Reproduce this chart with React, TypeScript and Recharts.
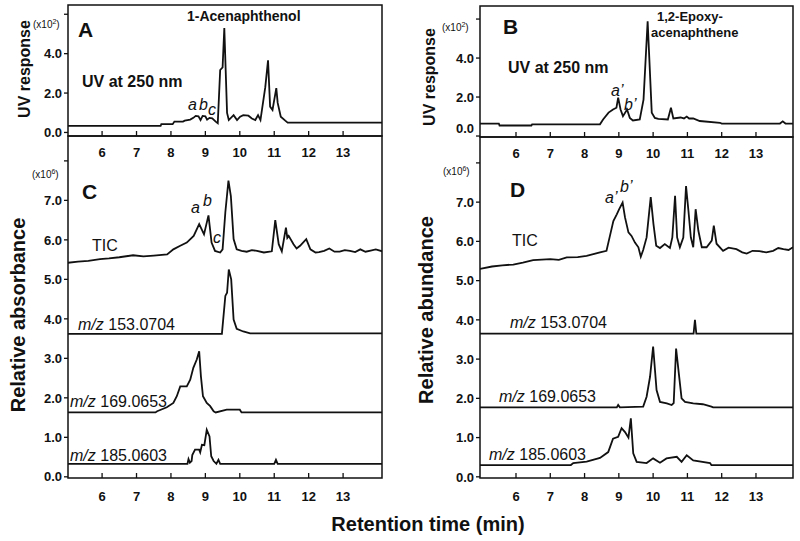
import { LineChart, Line, XAxis, YAxis, ReferenceArea } from "recharts";

// ---- panel A: UV 250 nm, 1-acenaphthenol (x10^2)
const uvA_t = [5.0, 7.7, 7.72, 8.05, 8.1, 8.35, 8.4, 8.56, 8.65, 8.72, 8.8, 8.86, 8.92, 9.0, 9.05, 9.12, 9.2, 9.3, 9.36, 9.43, 9.5, 9.55, 9.63, 9.68, 9.82, 9.92, 10.01, 10.1, 10.25, 10.35, 10.45, 10.53, 10.6, 10.74, 10.82, 10.88, 10.95, 11.06, 11.1, 11.19, 11.32, 11.39, 14.14];
const uvA_v = [0.33, 0.33, 0.42, 0.42, 0.55, 0.55, 0.6, 0.65, 0.74, 0.84, 0.82, 0.63, 0.84, 0.82, 0.65, 0.74, 0.72, 0.55, 0.47, 3.17, 3.3, 5.3, 0.99, 0.63, 0.88, 0.63, 0.8, 0.88, 0.85, 0.71, 0.63, 0.88, 0.63, 2.3, 3.66, 1.31, 1.14, 2.25, 1.5, 0.8, 0.6, 0.5, 0.5];

// ---- panel B: UV 250 nm, 1,2-epoxyacenaphthene (x10^2)
const uvB_t = [4.95, 5.5, 5.52, 6.45, 6.47, 8.45, 8.54, 8.7, 8.83, 8.93, 8.98, 9.05, 9.12, 9.24, 9.32, 9.41, 9.61, 9.72, 9.84, 9.96, 10.05, 10.15, 10.43, 10.52, 10.59, 10.8, 10.9, 10.98, 11.05, 11.17, 11.36, 11.95, 12.0, 13.7, 13.78, 13.86, 14.08];
const uvB_v = [0.64, 0.64, 0.54, 0.54, 0.6, 0.6, 0.85, 1.2, 1.36, 1.45, 1.97, 1.36, 1.02, 1.36, 0.93, 0.8, 0.85, 1.87, 5.89, 1.2, 0.93, 0.88, 0.85, 1.45, 0.9, 0.95, 0.9, 1.0, 0.9, 0.9, 0.77, 0.68, 0.64, 0.64, 0.75, 0.64, 0.64];

// ---- panel C: MS traces (x10^6), offset stacked
const ticC_t = [5.0, 5.3, 5.6, 5.94, 6.2, 6.5, 6.9, 7.2, 7.5, 7.89, 8.07, 8.27, 8.46, 8.66, 8.82, 8.9, 8.96, 9.09, 9.18, 9.28, 9.43, 9.5, 9.58, 9.67, 9.74, 9.82, 9.91, 10.05, 10.2, 10.35, 10.5, 10.7, 10.93, 11.03, 11.13, 11.22, 11.34, 11.38, 11.42, 11.56, 11.65, 11.75, 11.93, 12.05, 12.2, 12.3, 12.45, 12.6, 12.75, 12.9, 13.05, 13.2, 13.35, 13.5, 13.65, 13.8, 13.95, 14.14];
const ticC_v = [5.42, 5.45, 5.47, 5.51, 5.53, 5.56, 5.61, 5.58, 5.6, 5.63, 5.76, 5.85, 5.93, 6.1, 6.4, 6.25, 6.14, 6.62, 5.93, 5.72, 5.68, 5.76, 6.7, 7.5, 7.11, 6.02, 5.76, 5.72, 5.7, 5.74, 5.72, 5.68, 5.71, 6.5, 5.89, 5.71, 6.31, 6.05, 6.1, 5.89, 5.78, 5.85, 6.02, 5.76, 5.68, 5.69, 5.72, 5.78, 5.7, 5.7, 5.74, 5.72, 5.69, 5.76, 5.7, 5.73, 5.76, 5.71];
const mz153C_t = [5.0, 9.48, 9.58, 9.63, 9.68, 9.75, 9.82, 9.91, 10.1, 10.3, 14.14];
const mz153C_v = [3.62, 3.62, 4.58, 4.66, 5.25, 5.0, 3.98, 3.75, 3.68, 3.63, 3.63];
const mz169C_t = [5.0, 7.55, 7.6, 7.88, 8.07, 8.17, 8.27, 8.46, 8.56, 8.65, 8.75, 8.82, 8.87, 8.93, 9.04, 9.14, 9.24, 9.3, 9.62, 10.0, 10.05, 14.14];
const mz169C_v = [1.63, 1.63, 1.66, 1.76, 1.87, 2.04, 2.29, 2.29, 2.46, 2.76, 2.97, 3.18, 2.55, 2.04, 1.87, 1.79, 1.66, 1.63, 1.7, 1.7, 1.63, 1.63];
const mz185C_t = [5.0, 8.48, 8.51, 8.55, 8.6, 8.62, 8.7, 8.82, 8.85, 8.9, 8.97, 9.04, 9.12, 9.17, 9.24, 9.32, 9.38, 9.43, 11.0, 11.05, 11.1, 14.14];
const mz185C_v = [0.33, 0.33, 0.45, 0.36, 0.4, 0.55, 0.69, 0.69, 0.62, 0.81, 0.8, 1.19, 1.02, 0.52, 0.4, 0.33, 0.43, 0.33, 0.33, 0.43, 0.33, 0.33];

// ---- panel D
const ticD_t = [4.95, 5.3, 5.6, 5.92, 6.2, 6.5, 7.0, 7.25, 7.48, 7.8, 8.06, 8.45, 8.64, 8.74, 8.84, 8.94, 9.01, 9.11, 9.18, 9.28, 9.37, 9.47, 9.57, 9.64, 9.71, 9.81, 9.93, 10.01, 10.09, 10.2, 10.34, 10.49, 10.56, 10.64, 10.7, 10.78, 10.88, 10.96, 11.03, 11.1, 11.17, 11.24, 11.32, 11.42, 11.56, 11.71, 11.77, 11.85, 12.04, 12.2, 12.43, 12.6, 12.73, 12.9, 13.1, 13.3, 13.5, 13.65, 13.8, 13.95, 14.08];
const ticD_v = [5.3, 5.36, 5.39, 5.41, 5.46, 5.52, 5.55, 5.53, 5.59, 5.6, 5.63, 5.72, 5.76, 6.14, 6.52, 6.69, 6.82, 6.99, 6.61, 6.23, 6.14, 5.97, 5.85, 5.61, 5.78, 6.1, 7.13, 6.44, 5.89, 5.83, 5.93, 5.83, 6.1, 7.16, 6.1, 5.85, 6.1, 7.41, 6.78, 6.1, 5.85, 6.82, 6.27, 5.85, 5.85, 6.02, 6.4, 5.94, 5.76, 5.84, 5.8, 5.72, 5.69, 5.76, 5.75, 5.72, 5.76, 5.83, 5.8, 5.78, 5.85];
const mz153D_t = [4.95, 11.18, 11.22, 11.26, 14.08];
const mz153D_v = [3.65, 3.65, 4.0, 3.65, 3.65];
const mz169D_t = [4.95, 8.94, 8.98, 9.03, 9.71, 9.81, 9.91, 10.0, 10.1, 10.2, 10.4, 10.54, 10.6, 10.67, 10.75, 10.83, 10.93, 11.17, 11.45, 11.7, 11.75, 14.08];
const mz169D_v = [1.77, 1.77, 1.83, 1.77, 1.79, 2.04, 2.55, 3.32, 2.21, 1.91, 1.87, 1.83, 1.88, 3.27, 2.63, 2.0, 1.91, 1.87, 1.85, 1.79, 1.77, 1.77];
const mz185D_t = [4.95, 7.6, 7.67, 8.06, 8.45, 8.69, 8.83, 8.98, 9.08, 9.18, 9.28, 9.35, 9.42, 9.52, 9.81, 10.0, 10.2, 10.39, 10.69, 10.83, 10.98, 11.17, 11.66, 11.7, 14.08];
const mz185D_v = [0.3, 0.3, 0.35, 0.39, 0.48, 0.63, 0.97, 1.02, 1.24, 1.14, 1.0, 1.49, 0.6, 0.38, 0.35, 0.47, 0.36, 0.47, 0.51, 0.38, 0.55, 0.42, 0.35, 0.3, 0.3];

const timeTicks = [6, 7, 8, 9, 10, 11, 12, 13];
const uvTicks = [0, 2, 4, 6];
const msTicks = [0, 1, 2, 3, 4, 5, 6, 7, 8];

const INK = "#111";
const FONT = "'Liberation Sans', Arial, sans-serif";

const pts = (t: number[], v: number[]) => t.map((x, i) => ({ t: x, v: v[i] }));

const xTick = (off: number) => (p: any) => (
  <g>
    <line x1={p.x} x2={p.x} y1={p.y} y2={p.y - 5} stroke={INK} strokeWidth={1.3} />
    <text x={p.x} y={p.y + off} textAnchor="middle" fontSize={13} fontWeight="bold" fill={INK}>
      {p.payload.value}
    </text>
  </g>
);

const yTick = (maxLabel: number, zeroShift = 0) => (p: any) => {
  const v = p.payload.value;
  return (
    <g>
      <line x1={p.x - 4} x2={p.x} y1={p.y} y2={p.y} stroke={INK} strokeWidth={1.3} />
      {v <= maxLabel && (
        <text x={p.x - 6} y={p.y + (v === 0 ? zeroShift : 0)} dy="0.36em" textAnchor="end"
          fontSize={13} fontWeight="bold" fill={INK}>
          {v.toFixed(1)}
        </text>
      )}
    </g>
  );
};

interface PanelProps {
  left: number; top: number; w: number; h: number;
  xd: [number, number]; yd: [number, number];
  yTicks: number[]; maxLabel: number; zeroShift?: number; xOff: number;
  traces: { t: number[]; v: number[] }[];
}

function Panel({ left, top, w, h, xd, yd, yTicks, maxLabel, zeroShift = 0, xOff, traces }: PanelProps) {
  return (
    <div style={{ position: "absolute", left: left - 68, top: top - 10 }}>
      <LineChart width={68 + w + 10} height={h + 40} margin={{ top: 10, right: 10, left: 0, bottom: 0 }}>
        <XAxis type="number" dataKey="t" domain={xd} ticks={timeTicks} allowDataOverflow
          axisLine={false} tickLine={false} tickSize={0} tickMargin={0} height={30}
          tick={xTick(xOff)} interval={0} />
        <YAxis type="number" dataKey="v" domain={yd} ticks={yTicks} allowDataOverflow
          axisLine={false} tickLine={false} tickSize={0} tickMargin={0} width={68}
          tick={yTick(maxLabel, zeroShift)} interval={0} />
        {traces.map((tr, i) => (
          <Line key={i} data={pts(tr.t, tr.v)} dataKey="v" type="linear" dot={false}
            stroke={INK} strokeWidth={1.8} isAnimationActive={false} />
        ))}
        <ReferenceArea x1={xd[0]} x2={xd[1]} y1={yd[0]} y2={yd[1]} fill="none"
          stroke={INK} strokeWidth={1.5} ifOverflow="visible" />
      </LineChart>
    </div>
  );
}

const MZ = ({ x, y, m }: { x: number; y: number; m: string }) => (
  <text x={x} y={y} fontSize={16} fill={INK}>
    <tspan fontStyle="italic">m/z</tspan> {m}
  </text>
);

const Scale = ({ x, y, e }: { x: number; y: number; e: string }) => (
  <text x={x} y={y} fontSize={10} fill={INK}>
    (x10<tspan dy={-4} fontSize={7}>{e}</tspan><tspan dy={4}>)</tspan>
  </text>
);

export default function App() {
  return (
    <div style={{ position: "absolute", left: 0, top: 0, width: 800, height: 541, background: "#fff", fontFamily: FONT }}>
      <Panel left={68} top={5} w={314} h={131} xd={[5.01, 14.13]} yd={[-0.18, 6.47]}
        yTicks={uvTicks} maxLabel={4} xOff={21} traces={[{ t: uvA_t, v: uvA_v }]} />
      <Panel left={480} top={6} w={313} h={131} xd={[4.95, 14.08]} yd={[-0.05, 6.67]}
        yTicks={uvTicks} maxLabel={4} zeroShift={-8} xOff={21} traces={[{ t: uvB_t, v: uvB_v }]} />
      <Panel left={68} top={136} w={314} h={342} xd={[5.01, 14.13]} yd={[-0.03, 8.63]}
        yTicks={msTicks} maxLabel={7} xOff={23}
        traces={[{ t: ticC_t, v: ticC_v }, { t: mz153C_t, v: mz153C_v }, { t: mz169C_t, v: mz169C_v }, { t: mz185C_t, v: mz185C_v }]} />
      <Panel left={480} top={137} w={313} h={341} xd={[4.95, 14.08]} yd={[-0.03, 8.66]}
        yTicks={msTicks} maxLabel={7} xOff={23}
        traces={[{ t: ticD_t, v: ticD_v }, { t: mz153D_t, v: mz153D_v }, { t: mz169D_t, v: mz169D_v }, { t: mz185D_t, v: mz185D_v }]} />

      <svg width={800} height={541} style={{ position: "absolute", left: 0, top: 0, pointerEvents: "none" }} fontFamily={FONT}>
        {/* A */}
        <Scale x={33} y={28} e="2" />
        <text x={78} y={37} fontSize={21} fontWeight="bold" fill={INK}>A</text>
        <text x={187} y={21} fontSize={14} fontWeight="bold" fill={INK}>1-Acenaphthenol</text>
        <text x={82} y={87} fontSize={16} fontWeight="bold" fill={INK}>UV at 250 nm</text>
        <text x={188} y={110} fontSize={16} fontStyle="italic" fill={INK}>a</text>
        <text x={199} y={110} fontSize={16} fontStyle="italic" fill={INK}>b</text>
        <text x={208} y={115} fontSize={16} fontStyle="italic" fill={INK}>c</text>
        <text transform="translate(24,69) rotate(-90)" textAnchor="middle" dominantBaseline="central"
          fontSize={16} fontWeight="bold" fill={INK}>UV response</text>

        {/* B */}
        <Scale x={442} y={31} e="2" />
        <text x={503} y={34} fontSize={21} fontWeight="bold" fill={INK}>B</text>
        <text x={657} y={21} fontSize={13} fontWeight="bold" fill={INK}>1,2-Epoxy-</text>
        <text x={651} y={37} fontSize={13} fontWeight="bold" fill={INK}>acenaphthene</text>
        <text x={508} y={73} fontSize={16} fontWeight="bold" fill={INK}>UV at 250 nm</text>
        <text x={611} y={96} fontSize={16} fontStyle="italic" fill={INK}>a’</text>
        <text x={624} y={110} fontSize={16} fontStyle="italic" fill={INK}>b’</text>
        <text transform="translate(429,77) rotate(-90)" textAnchor="middle" dominantBaseline="central"
          fontSize={16} fontWeight="bold" fill={INK}>UV response</text>

        {/* C */}
        <Scale x={32} y={178} e="6" />
        <text x={82} y={199} fontSize={21} fontWeight="bold" fill={INK}>C</text>
        <text x={191} y={213} fontSize={16} fontStyle="italic" fill={INK}>a</text>
        <text x={203} y={206} fontSize={16} fontStyle="italic" fill={INK}>b</text>
        <text x={213} y={243} fontSize={16} fontStyle="italic" fill={INK}>c</text>
        <text x={92} y={251} fontSize={16} fill={INK}>TIC</text>
        <MZ x={78} y={330} m="153.0704" />
        <MZ x={70} y={407} m="169.0653" />
        <MZ x={70} y={461} m="185.0603" />
        <text transform="translate(18,315) rotate(-90)" textAnchor="middle" dominantBaseline="central"
          fontSize={20} fontWeight="bold" fill={INK}>Relative absorbance</text>

        {/* D */}
        <Scale x={443} y={175} e="6" />
        <text x={510} y={197} fontSize={21} fontWeight="bold" fill={INK}>D</text>
        <text x={605} y={203} fontSize={16} fontStyle="italic" fill={INK}>a’</text>
        <text x={620} y={192} fontSize={16} fontStyle="italic" fill={INK}>b’</text>
        <text x={512} y={246} fontSize={16} fill={INK}>TIC</text>
        <MZ x={510} y={328} m="153.0704" />
        <MZ x={499} y={402} m="169.0653" />
        <MZ x={489} y={460} m="185.0603" />
        <text transform="translate(426,310) rotate(-90)" textAnchor="middle" dominantBaseline="central"
          fontSize={20} fontWeight="bold" fill={INK}>Relative abundance</text>

        <text x={428} y={531} textAnchor="middle" fontSize={20} fontWeight="bold" fill={INK}>Retention time (min)</text>
      </svg>
    </div>
  );
}
